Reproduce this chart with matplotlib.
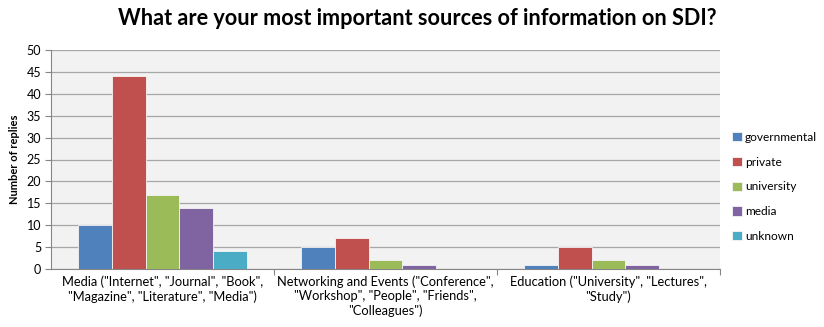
import matplotlib
matplotlib.use("Agg")
import matplotlib.pyplot as plt
import numpy as np

categories = ['Media ("Internet", "Journal", "Book",\n"Magazine", "Literature", "Media")',
              'Networking and Events ("Conference",\n"Workshop", "People", "Friends",\n"Colleagues")',
              'Education ("University", "Lectures",\n"Study")']
series_names = ["governmental", "private", "university", "media", "unknown"]
governmental = [10, 5, 1]
private = [44, 7, 5]
university = [17, 2, 2]
media = [14, 1, 1]
unknown = [4, 0, 0]
values = [governmental, private, university, media, unknown]
colors = ["#4F81BD", "#C0504D", "#9BBB59", "#8064A2", "#4BACC6"]

plt.rcParams['font.family'] = ['Lato', 'DejaVu Sans']

fig = plt.figure(figsize=(8.24, 3.27), dpi=100)
ax = fig.add_axes([51/824, 1-269/327, (720-51)/824, (269-50)/327])
ax.set_facecolor("#F2F2F2")

x = np.arange(len(categories))
w = 0.151
for i, (name, vals, c) in enumerate(zip(series_names, values, colors)):
    ax.bar(x + (i - 2) * w, vals, width=w, color=c, edgecolor="#f5f5f5", linewidth=0.6,
           label=name, zorder=3)

ax.set_xlim(-0.5, 2.5)
ax.set_ylim(0, 50)
ax.set_yticks(range(0, 51, 5))
ax.yaxis.grid(True, color="#A6A6A6", linewidth=0.9, zorder=0)
ax.set_axisbelow(True)
for s in ["top", "right"]:
    ax.spines[s].set_visible(False)
ax.spines["left"].set_color("#868686")
ax.spines["bottom"].set_color("#868686")

ax.set_xticks([0.5, 1.5, 2.5], minor=False)
ax.set_xticklabels([])
ax.set_xticks(x, minor=True)
ax.set_xticklabels(categories, minor=True, fontsize=9.3, linespacing=1.2)
ax.tick_params(axis="x", which="minor", length=0, pad=5)
ax.tick_params(axis="x", which="major", length=4, color="#868686")
ax.tick_params(axis="y", length=4, color="#868686", labelsize=9, pad=3)

ax.set_ylabel("Number of replies", fontsize=8, fontweight="bold", labelpad=5)

fig.suptitle("What are your most important sources of information on SDI?",
             fontsize=15.6, fontweight="bold", x=0.506, y=0.975)

leg = ax.legend(loc="center left", bbox_to_anchor=(1.0, 0.375), frameon=False,
                fontsize=8.6, handlelength=0.8, handleheight=0.8, handletextpad=0.3,
                labelspacing=1.15, borderaxespad=0.6)

fig.savefig("out.png", dpi=100)
